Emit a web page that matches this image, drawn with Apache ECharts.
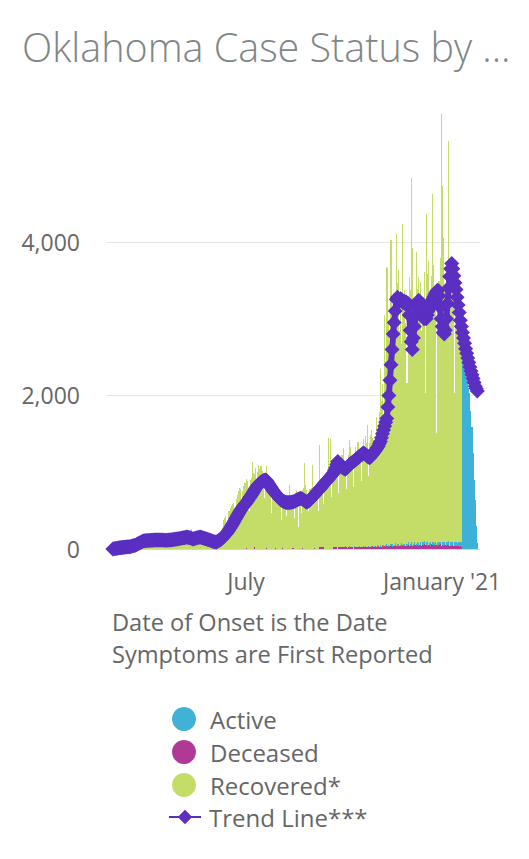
<!DOCTYPE html>
<html><head><meta charset="utf-8">
<script src="https://cdn.jsdelivr.net/npm/echarts@6/dist/echarts.min.js"></script>
<style>
html,body{margin:0;padding:0;background:#fff}
#c{width:529px;height:859px}
#c path[fill="#c3dd68"], #c path[fill="#40b1d6"], #c path[fill="#b03996"]{shape-rendering:crispEdges}
</style>
</head><body><div id="c"></div>
<script>
// ---- data ----
const START_DATE = '2020-02-22';
const DAY_COUNT = 350;
const tickLabels = [{date:'2020-07-01', label:'July'}, {date:'2021-01-01', label:"January '21"}];
const yTicks = [0, 2000, 4000];
const titleText = 'Oklahoma Case Status by ...';
const noteLines = ['Date of Onset is the Date', 'Symptoms are First Reported'];
const seriesNames = ['Active', 'Deceased', 'Recovered*', 'Trend Line***'];

const recovered = [
0,0,0,0,0,0,0,
0,1,2,3,5,6,8,
10,12,18,22,28,35,40,
38,35,55,62,70,78,85,
80,72,95,102,110,108,100,
90,85,112,120,118,115,108,
98,90,118,125,120,116,110,
95,88,115,112,118,110,105,
92,85,110,115,108,112,102,
95,88,122,128,120,118,112,
100,90,128,135,138,130,125,
105,95,260,150,145,160,140,
110,98,140,150,135,148,130,
100,88,112,125,118,112,104,
78,72,98,108,115,125,135,
110,100,200,280,380,400,430,
300,280,500,540,560,580,600,
480,440,650,700,760,800,780,
600,760,820,860,900,880,800,
500,900,920,1130,990,960,1050,
720,1000,1090,1040,1080,1010,990,
660,900,1070,920,890,860,830,
470,760,800,760,720,740,690,
640,660,380,690,660,640,650,
430,640,660,830,640,700,630,
410,660,770,690,290,640,610,
470,760,790,1120,830,770,720,
490,780,790,1090,810,770,730,
640,820,500,1330,890,910,860,
570,900,970,1010,1450,1060,1430,
680,1000,1110,1160,1060,1010,990,
710,1080,1160,1210,1300,1110,1060,
760,1150,1210,1380,1310,1190,1110,
810,1200,1310,1260,1380,1210,1160,
860,1250,1390,1310,1430,1360,1590,
910,1350,1460,1510,1410,1390,1360,
1700,1450,1600,1750,2300,1900,2100,
1500,3020,2400,3600,3630,2900,2500,
3960,3100,3300,2700,3200,4070,3400,
3570,2800,3300,2600,4180,3100,3300,
2900,2100,3000,3500,3300,4740,3880,
3200,2700,2500,3800,3300,3470,3100,
3400,2800,3200,3500,1980,4270,3500,
3700,3100,2900,3500,4530,3600,3300,
3000,1460,3100,3400,3700,5620,4640,
3960,3300,3100,3500,3400,5220,3740,
3300,3500,3150,3300,1940,3100,3020,
2900,2800,2680,2600,0,0,0,
0,0,0,0,0,0,0,
0,0,0,0,0,0,0
];

const active = [
0,0,0,0,0,0,0, 0,0,0,0,0,0,0, 0,0,0,0,0,0,0, 0,0,0,0,0,0,0, 0,0,0,0,0,0,0,
0,0,0,0,0,0,0, 0,0,0,0,0,0,0, 0,0,0,0,0,0,0, 0,0,0,0,0,0,0, 0,0,0,0,0,0,0,
0,0,0,0,0,0,0, 0,0,0,0,0,0,0, 0,0,0,0,0,0,0, 0,0,0,0,0,0,0, 0,0,0,0,0,0,0,
0,0,0,0,0,0,0, 0,0,0,0,0,0,0, 0,0,0,0,0,0,0, 0,0,0,0,0,0,0, 0,0,0,0,0,0,0,
0,0,0,0,0,0,0, 0,0,0,0,0,0,0, 0,0,0,0,0,0,0, 0,0,0,0,0,0,0, 0,0,0,0,0,0,0,
0,0,0,0,0,0,0, 0,0,0,0,0,0,0, 0,0,0,0,0,0,0, 0,0,0,0,0,0,0, 0,0,0,0,0,0,0,
0,0,0,0,0,0,0,
0,0,0,0,0,0,15,
0,0,0,10,0,0,0,
0,15,0,0,0,12,0,
0,0,15,0,20,0,0,
15,0,0,20,0,0,18,
0,20,0,0,25,0,15,
20,0,25,30,0,20,0,
25,30,0,20,30,0,25,
30,0,20,35,0,25,30,
0,25,35,0,30,40,0,
30,35,0,25,40,30,0,
35,0,30,45,0,35,40,
0,30,40,0,35,45,30,
40,0,35,45,30,0,40,
45,40,0,50,40,45,0,
50,45,40,0,55,50,45,
50,60,55,60,2460,2450,2400,
2380,2240,2200,2100,2030,1800,1590,
1250,900,640,300,80,0,0
];

const deceased = [
0,0,0,0,0,0,0, 0,0,0,0,0,0,0, 0,0,0,0,0,0,0, 0,0,0,0,0,0,0, 0,0,0,0,0,0,0,
0,0,0,0,0,0,0, 0,0,0,0,0,0,0, 0,0,0,0,0,0,0, 0,0,0,0,0,0,0, 0,0,0,0,0,0,0,
0,0,0,0,0,0,0, 0,0,0,0,0,0,0, 0,0,0,0,0,0,0, 0,0,0,0,0,0,0, 0,0,0,0,0,0,0,
0,0,0,0,0,0,0, 0,0,0,0,0,0,0, 0,0,0,0,0,0,0,
0,0,0,0,15,0,0,
0,0,0,0,0,20,0,
0,0,0,0,0,0,0,
0,0,15,0,0,0,0,
0,0,0,0,15,0,0,
0,0,0,15,0,0,0,
0,0,0,0,0,0,15,
0,0,0,0,0,0,0,
0,15,0,0,0,0,0,
0,0,0,0,0,15,0,
0,0,0,20,20,20,20,
20,0,0,0,0,0,0,
0,0,20,20,20,20,0,
20,20,20,20,20,20,20,
20,15,20,25,20,20,20,
0,20,25,20,20,25,20,
25,20,25,30,20,25,20,
20,25,30,25,35,25,20,
25,30,35,30,25,30,35,
30,35,30,40,35,30,35,
35,30,40,35,45,40,35,
40,45,35,40,50,45,40,
45,40,50,45,40,55,45,
40,50,55,45,50,45,55,
50,45,55,60,50,55,45,
55,50,45,60,55,50,45,
50,55,45,50,60,45,50,
45,50,55,45,50,55,40,
40,45,50,35,40,45,35,
35,30,35,30,0,0,0,
0,0,0,0,0,0,0,
0,0,0,0,0,0,0
];

const trend = [
null,null,null,null,null,0,3,
5,8,10,12,15,17,19,
20,22,24,25,27,28,30,
30,34,38,42,45,50,57,
65,72,78,85,92,100,104,
106,108,110,111,112,113,114,
114,115,116,116,117,117,117,
117,117,116,116,115,115,115,
115,116,117,118,120,122,124,
126,128,130,132,135,137,140,
142,145,148,151,155,153,150,
147,145,138,130,134,138,142,
145,150,153,155,151,147,142,
138,134,130,125,120,116,110,
104,98,94,90,92,98,106,
113,120,133,147,160,178,194,
210,228,248,270,293,316,340,
365,390,415,440,462,485,508,
530,548,566,584,600,620,640,
660,680,700,722,745,770,790,
810,830,845,860,870,880,890,
895,900,895,875,855,830,810,
790,770,750,733,716,700,683,
666,650,640,630,620,614,610,
607,605,605,606,608,610,614,
620,627,635,642,648,654,660,
655,648,640,630,620,610,618,
630,645,660,675,690,705,720,
735,750,765,780,795,812,830,
846,862,878,894,910,926,942,
958,975,990,1025,1060,1100,1140,
1120,1100,1080,1065,1055,1048,1040,
1052,1065,1080,1097,1112,1122,1130,
1142,1154,1166,1178,1190,1202,1214,
1226,1238,1250,1240,1230,1220,1205,
1198,1190,1205,1222,1240,1258,1276,
1295,1320,1340,1370,1400,1450,1500,
1550,1600,1650,1700,1850,2000,2200,
2400,2600,2800,2950,3100,3250,3280,
3250,3230,3260,3240,3210,3230,3200,
3220,3180,3200,3050,2850,2700,2600,
2750,2900,3050,3150,3200,3240,3220,
3180,3120,3060,3000,3020,3000,3050,
3100,3140,3180,3210,3250,3280,3310,
3340,3360,3370,3300,3150,3000,2900,
2820,2800,2850,3000,3200,3400,3550,
3650,3720,3650,3560,3470,3380,3280,
3180,3080,2980,2900,2820,2750,2680,
2610,2550,2490,2430,2370,2320,2270,
2220,2170,2120,2090,2060,null,null
];

// ---- build ----
const categories = [];
const d0 = new Date(START_DATE + 'T00:00:00Z');
for (let i = 0; i < DAY_COUNT; i++) {
  categories.push(new Date(d0.getTime() + i * 86400000).toISOString().slice(0, 10));
}
const tickMap = {};
tickLabels.forEach(t => { tickMap[t.date] = t.label; });

const FONT = '"Open Sans", "Noto Sans", sans-serif';
const COLORS = { active: '#40b1d6', deceased: '#b03996', recovered: '#c3dd68', trend: '#5a2fc2' };
const LEGEND_COLORS = { active: '#41b1d6', deceased: '#b13996', recovered: '#c4dd68' };

const chart = echarts.init(document.getElementById('c'), null, { renderer: 'svg' });
const barBase = { type: 'bar', stack: 'total', barCategoryGap: '0%', barGap: '0%', animation: false };
chart.setOption({
  animation: false,
  title: {
    text: titleText, left: 17, top: 22,
    textStyle: { fontFamily: FONT, fontSize: 39.5, fontWeight: 300, color: '#7f8686' }
  },
  grid: { left: 107, right: 49, top: 111.5, bottom: 310 },
  xAxis: {
    type: 'category', data: categories, boundaryGap: true,
    axisLine: { lineStyle: { color: '#ccd6eb', width: 1 } },
    axisTick: { show: false },
    splitLine: { show: false },
    axisLabel: {
      interval: (idx, val) => Object.prototype.hasOwnProperty.call(tickMap, val),
      formatter: v => tickMap[v] || '',
      fontFamily: FONT, fontSize: 23, color: '#666666', margin: 20
    }
  },
  yAxis: {
    type: 'value', min: 0, max: 5700, interval: 2000,
    axisLine: { show: false }, axisTick: { show: false },
    splitLine: { lineStyle: { color: '#e6e6e6', width: 1 }, showMinLine: false, showMaxLine: false },
    axisLabel: {
      showMaxLabel: false,
      formatter: v => yTicks.indexOf(v) >= 0 ? v.toLocaleString('en-US') : '',
      fontFamily: FONT, fontSize: 23, color: '#666666', margin: 27
    }
  },
  legend: [
    {
      data: [
        { name: seriesNames[0], itemStyle: { color: LEGEND_COLORS.active } },
        { name: seriesNames[1], itemStyle: { color: LEGEND_COLORS.deceased } },
        { name: seriesNames[2], itemStyle: { color: LEGEND_COLORS.recovered } }
      ],
      orient: 'vertical', left: 172, top: 707, padding: 0,
      itemWidth: 32, itemHeight: 24, itemGap: 9, icon: 'circle',
      textStyle: { fontFamily: FONT, fontSize: 24, color: '#666666', padding: [0, 0, 0, 5] }
    },
    {
      data: [seriesNames[3]],
      orient: 'vertical', left: 168, top: 805, padding: 0,
      itemWidth: 32, itemHeight: 18,
      textStyle: { fontFamily: FONT, fontSize: 24, color: '#666666', padding: [0, 0, 0, 3] }
    }
  ],
  graphic: [
    { type: 'text', x: 112, y: 622, style: { text: noteLines[0], font: '23.6px ' + FONT, fill: '#666666', verticalAlign: 'middle' } },
    { type: 'text', x: 112, y: 654, style: { text: noteLines[1], font: '23.6px ' + FONT, fill: '#666666', verticalAlign: 'middle' } }
  ],
  series: [
    Object.assign({}, barBase, { name: seriesNames[1], data: deceased, itemStyle: { color: COLORS.deceased } }),
    Object.assign({}, barBase, { name: seriesNames[0], data: active, itemStyle: { color: COLORS.active } }),
    Object.assign({}, barBase, { name: seriesNames[2], data: recovered, itemStyle: { color: COLORS.recovered } }),
    {
      type: 'line', name: seriesNames[3], data: trend, z: 5,
      symbol: 'diamond', symbolSize: 15, showSymbol: true, showAllSymbol: true,
      lineStyle: { color: COLORS.trend, width: 6 },
      itemStyle: { color: COLORS.trend },
      connectNulls: false
    }
  ]
});
</script>
</body></html>
